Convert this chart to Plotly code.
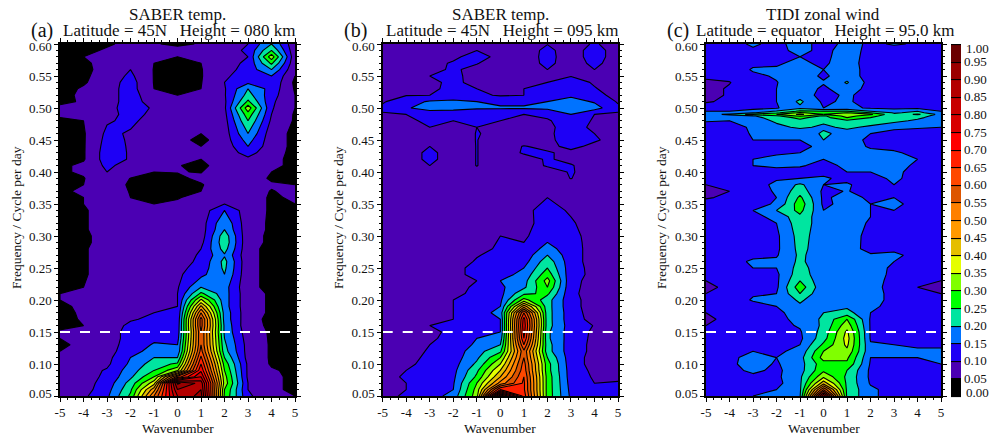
import numpy as np
import plotly.graph_objects as go

W, H = 991, 436
WAVENUMBER = [-5, -4, -3, -2, -1, 0, 1, 2, 3, 4, 5]
X_TICK_TEXT = ["-5", "-4", "-3", "-2", "-1", "0", "1", "2", "3", "4", "5"]
Y_TICKS = [0.05, 0.10, 0.15, 0.20, 0.25, 0.30, 0.35, 0.40, 0.45, 0.50, 0.55, 0.60]
CB_TICKS = [round(i * 0.05, 2) for i in range(21)]

# Rows of values in hundredths, columns are wavenumbers -5..5
ROWS_A = {
0.05: [6, 9, 14, 26, 55, 85, 92, 29, 11, 6, 5],
0.06: [6, 8, 13, 24, 48, 90, 90, 30, 10, 6, 4],
0.07: [6, 8, 12, 22, 38, 96, 88, 33, 10, 6, 4],
0.08: [6, 8, 11, 19, 30, 62, 80, 32, 9, 6, 4],
0.09: [6, 8, 10.5, 17.5, 25, 34, 74, 30, 9, 5.5, 4],
0.10: [6, 8, 9, 16, 22.5, 26, 70, 28, 9, 4.5, 4],
0.11: [6, 7, 8.5, 15, 20, 20, 66, 25, 8, 4.5, 3],
0.12: [5, 7, 8, 13, 17, 16, 62, 22, 8, 4.5, 3],
0.13: [3.5, 7, 8, 12, 15.5, 15, 60, 21, 8, 4.5, 3],
0.14: [5, 7, 8, 11.5, 14, 13, 60, 20, 7.5, 4.5, 3],
0.15: [5.5, 7, 8, 11.5, 12, 12, 60, 19, 7, 4.5, 3],
0.16: [4, 5, 7.5, 11, 11.5, 11.5, 62, 19, 6, 4.5, 3],
0.17: [3.5, 5.5, 7, 9.5, 11, 11, 62, 18, 6.5, 4, 3],
0.18: [3.5, 5.8, 7, 8, 10, 10.5, 55, 18, 6.5, 4.5, 3],
0.19: [4, 6, 7, 8, 9, 10, 46, 17, 6.5, 4.5, 3],
0.20: [5, 6.5, 7, 8, 8.5, 10, 36, 17, 6.5, 4.5, 3],
0.21: [5, 5.5, 7, 7.5, 8, 10, 26, 17, 6.5, 4.5, 3],
0.22: [3.5, 5, 7, 7.5, 8, 9.5, 20, 17, 6, 4, 3],
0.24: [3.5, 4.5, 7, 7.5, 8, 9, 13.5, 20, 6, 4, 3],
0.25: [3.5, 4.5, 7, 7.5, 8, 8.5, 12, 21, 6, 4, 3],
0.26: [3.5, 4.5, 7, 7.5, 8, 8, 11, 21.5, 6, 4, 3],
0.27: [3.5, 4.5, 7, 7.5, 8, 8, 10.5, 19.5, 6, 4, 3],
0.28: [3.5, 4.5, 7, 7.5, 8, 8, 10, 22, 6, 4, 3],
0.29: [3.5, 4, 7, 7.5, 8, 8, 8.5, 23.5, 6, 4.5, 3],
0.30: [3.5, 4, 7, 7.5, 8, 8, 7.5, 23, 6, 4.5, 3],
0.31: [3.5, 4.5, 7, 7.5, 8, 8, 7.5, 20, 6.5, 4.5, 3],
0.32: [3.5, 4.5, 7, 7.5, 8, 7.5, 7.5, 19, 6.5, 4.5, 3],
0.34: [3.5, 4.5, 7, 7.5, 7, 6.5, 7, 15, 7, 4.5, 4],
0.35: [4, 5, 7, 6, 5, 5.5, 6.5, 10, 7, 4.5, 5],
0.36: [4, 5, 7, 5, 4, 4.8, 6, 9, 7, 4.5, 5.5],
0.37: [4.5, 5.5, 7, 4.8, 4, 4.2, 5, 8, 7, 4.8, 6],
0.38: [3.5, 5, 7, 4.5, 4, 4, 4.8, 6.5, 7, 5.5, 5],
0.39: [4, 4.8, 8, 4.9, 4.5, 4.5, 5.5, 6.5, 7, 4.5, 4.5],
0.40: [4.5, 5.5, 10, 7, 5, 5.1, 4.9, 7, 6.5, 5, 4],
0.41: [4, 6, 11, 8, 5.5, 5.2, 4, 7, 6.5, 5.5, 4.5],
0.42: [3.5, 4.5, 12.5, 9.5, 7, 6, 5, 7, 9, 6, 4],
0.43: [3.5, 4.5, 12.5, 9.5, 7.5, 6.5, 6, 7, 12, 6.5, 4],
0.44: [3.5, 4.5, 12, 9.5, 8, 7, 5, 7, 15, 7, 4],
0.45: [3.5, 4.5, 11.5, 9.5, 8, 6.5, 3.8, 7.5, 17, 7, 4],
0.46: [3.5, 4.5, 11, 9.5, 8, 7, 5, 7.5, 20, 7, 4],
0.48: [4, 5, 9.5, 11, 8, 7, 7, 8, 25, 9, 4.5],
0.49: [6, 6, 8.5, 11.5, 9, 7, 7, 8.5, 28, 10, 4.5],
0.50: [6, 6, 8.5, 12, 9.5, 7.5, 7, 9, 33, 10.5, 5],
0.51: [4, 5.5, 8, 12, 8, 7, 7, 9, 26, 11, 5],
0.52: [3.5, 6, 8, 12, 7, 5, 7, 9.5, 22, 12, 5],
0.53: [3.5, 5.5, 8, 12, 5, 3.5, 5, 9.5, 20, 13, 4.5],
0.54: [3.5, 4.5, 7.5, 12, 4.8, 3.5, 4.8, 10, 14, 14, 4],
0.55: [3.5, 4.2, 7, 11, 4.8, 3.5, 4.7, 9, 13, 15, 5],
0.56: [3.5, 4, 6.5, 10, 4.8, 3.5, 4.8, 8, 12, 20, 5.5],
0.57: [3.5, 4.5, 6, 9, 5, 3.8, 5, 8, 11, 26, 6],
0.58: [3.5, 5, 6, 8, 7, 5, 7, 7.5, 10, 33, 6],
0.59: [3.5, 4, 5.5, 7, 6, 6, 6.5, 7.5, 11, 25, 6],
0.60: [3.5, 4, 4.5, 6, 5.2, 4.5, 5.2, 7, 10, 20, 6],
}
ROWS_B = {
0.05: [9, 10.5, 12.5, 17, 33, 100, 68, 28, 14, 11.5, 10.5],
0.06: [8, 10, 12, 15, 32, 70, 66, 28, 13.5, 11, 10.5],
0.07: [8, 10, 12, 14.5, 30, 52, 66, 28, 13, 10, 10.2],
0.08: [7.5, 11, 11.5, 14, 26, 45, 65, 28, 12.5, 9.5, 9.5],
0.09: [7.5, 10, 11.5, 13.5, 24, 40, 63, 27, 12.5, 9, 8.5],
0.10: [7.5, 9, 11.5, 13, 21, 35, 62, 27, 12, 8.5, 8],
0.11: [7.5, 8.5, 11, 12.5, 19, 30, 60, 25, 12, 8.5, 8],
0.12: [7.5, 8, 10.5, 12, 18, 24, 59, 22, 12, 9, 8],
0.13: [7.5, 8, 10, 11.5, 16, 20, 65, 22, 12, 9, 8],
0.14: [7.5, 8, 9.5, 11, 15, 17, 70, 21, 12.5, 9, 8],
0.15: [7.5, 8, 9.5, 10.5, 13.5, 15, 72, 21, 12.5, 9.2, 8],
0.16: [7.5, 8, 10, 11, 13, 15, 73, 22, 12.5, 9.8, 8],
0.17: [7.5, 8, 8.5, 10, 13, 15, 72, 22, 12, 8.5, 8],
0.18: [7.5, 8, 8.5, 10, 12, 17, 65, 22, 12, 8, 8],
0.19: [7.5, 8, 8.5, 10, 12, 15, 48, 22, 11.5, 8, 8],
0.20: [7.5, 8, 8.5, 10, 11.5, 14, 32, 22, 11.5, 8, 8],
0.21: [7.5, 8, 8.5, 9.5, 10.5, 13.5, 24, 26, 11, 8, 8],
0.22: [7.5, 8, 8.5, 9, 10.5, 14, 19, 30, 11, 8.5, 8],
0.23: [7.5, 8, 8.5, 9, 10, 15, 18, 32, 11, 8.8, 8],
0.24: [7.5, 8, 8.5, 9, 11, 13, 16.5, 28, 11.5, 9, 8],
0.25: [7.5, 8, 8.5, 9, 11, 12, 15, 25, 12, 8.5, 8],
0.26: [7.5, 8, 8.5, 8.5, 10.3, 11.5, 13, 23, 12, 8, 8],
0.27: [7.5, 8, 8.5, 8.5, 9.8, 11, 12, 20, 12, 8, 8],
0.28: [7.5, 8, 8.5, 8, 9, 10.5, 11, 17, 12, 8, 8],
0.29: [7.5, 8, 8.5, 8, 9, 10.2, 10, 15, 11.8, 8, 8],
0.30: [7.5, 8, 8.5, 8, 8.5, 10, 9, 14, 11.5, 8, 8],
0.32: [7.5, 8, 8.5, 8, 8, 9, 8.5, 12, 10.5, 8, 8],
0.34: [7.5, 8, 8, 8, 8, 8, 9, 11.5, 9.5, 8, 8],
0.36: [7.5, 8, 8, 8, 8, 8, 8, 10, 8, 8, 8],
0.38: [7.5, 8, 8, 8, 8, 8, 8, 8.5, 8, 8, 8],
0.39: [7.5, 8, 8, 8, 8, 8, 8, 8, 10.1, 8, 8],
0.40: [7.5, 8, 8, 8, 9, 8, 8, 8, 10.4, 8, 8],
0.41: [8, 8, 10, 8, 10.1, 8, 8, 10.4, 10.3, 8, 8],
0.42: [8, 8, 11, 8, 10.1, 8, 8.5, 10.4, 9, 8, 8],
0.43: [8, 8, 11, 8, 10.1, 8, 10.4, 10.4, 9, 9, 8],
0.44: [8, 8, 10, 8, 10.1, 8, 10.2, 9, 11, 9, 8],
0.45: [8, 8, 8, 8.5, 10.1, 8, 8, 9, 12, 10.5, 8.5],
0.46: [8, 8, 8, 8.5, 10.1, 9.5, 8, 9, 12.5, 10, 8.5],
0.47: [8, 8, 10, 9.5, 10, 10, 8.5, 9, 12, 9, 8.5],
0.48: [8.5, 9, 11, 10, 11, 10, 9, 9.5, 12.5, 9.5, 9],
0.49: [9.5, 10, 12, 13, 12, 11, 10, 11, 15, 10, 9.5],
0.50: [11, 14.5, 17, 16, 15.5, 15.5, 15.5, 16, 18, 17, 11],
0.51: [9.5, 13, 15.5, 16, 15, 14, 14, 15, 17, 14.5, 9.5],
0.52: [8.5, 9.8, 10, 12, 11, 9.5, 10, 13, 14, 11, 9],
0.53: [8, 8.5, 8.5, 12, 10, 8, 10, 11.5, 13, 10.3, 8],
0.54: [8, 8, 8.5, 11.5, 8, 8, 8, 10, 12, 9.5, 8],
0.55: [8, 8, 10, 11, 8.5, 8, 8, 10, 9.8, 8.5, 8],
0.56: [8, 8, 9, 10.5, 9, 8, 8, 10, 8, 10, 8],
0.57: [8, 8, 8.5, 10.5, 10.2, 8, 8, 11, 8, 11, 8],
0.58: [8, 8, 8, 9, 12, 8.5, 8, 11.2, 8, 11.8, 8],
0.59: [8, 8, 8, 8, 10, 8, 8, 11, 8, 11.8, 8],
0.60: [8, 8, 8, 8, 8, 8, 8, 9.9, 8, 10.5, 8],
}
ROWS_C = {
0.05: [12, 13, 15, 16, 19.5, 80, 24, 16, 13, 12.5, 12.5],
0.06: [12, 13, 13.5, 15, 19, 60, 24, 16, 13, 12.5, 12.5],
0.07: [12, 13, 13.5, 13.5, 19, 43, 24, 14.5, 13, 13, 13],
0.08: [12, 13, 14, 14, 19, 34, 24, 14, 13, 13, 13],
0.09: [12, 13.5, 16, 14, 18, 29, 25, 14, 13.5, 13.5, 14],
0.10: [12, 14, 17, 14.5, 18, 28, 29, 14.5, 14, 14, 15],
0.11: [12, 14, 16.5, 15, 18, 32, 31, 15, 15, 15, 15.5],
0.12: [12, 13, 15, 14, 16.5, 30, 34, 16, 16, 15.5, 15.5],
0.13: [12, 12.5, 13, 13, 15, 26, 36, 15.5, 15, 14.5, 14.5],
0.14: [11.5, 12, 13, 13, 14, 23, 37, 14.5, 13.5, 13, 13],
0.15: [11, 12, 12.5, 13, 14.5, 22, 36, 14.5, 13, 12.5, 12.5],
0.16: [10, 12, 12.5, 13.5, 15.5, 21, 33, 14.5, 13, 12.5, 12.5],
0.17: [8.5, 12, 12.5, 14, 16, 21, 30, 14.5, 13, 12.5, 12],
0.18: [10, 12, 12.5, 14, 17, 20, 22, 15, 13, 12.5, 12],
0.19: [11, 12, 13, 15, 19, 16, 19, 16, 13.5, 12.5, 12],
0.20: [11, 12, 15.5, 15.5, 21, 15.5, 18, 17, 13.5, 13, 12],
0.21: [10, 11.5, 14.5, 15, 25, 15.5, 18, 17, 13.5, 12, 10],
0.22: [8.5, 11.5, 13, 14, 28, 16, 17, 16, 14, 10, 8.5],
0.23: [10, 12, 13, 14, 25, 16, 17, 17, 13.5, 12, 10],
0.24: [11.5, 12, 12.5, 14, 23, 16, 17, 17, 14, 13, 11.5],
0.25: [12, 12.5, 15, 15, 22, 16.5, 17, 17.5, 14, 13, 12],
0.26: [12, 12.5, 16, 16, 21, 16.5, 19, 17, 15, 13, 12],
0.27: [12, 12.5, 13.5, 14.5, 21, 17, 17.5, 15.5, 17, 12, 12],
0.28: [12, 12.5, 13, 14, 21.5, 17, 17, 13.5, 13, 12.5, 12],
0.30: [12, 12.5, 13, 14, 22, 17, 18, 13, 12.5, 12.5, 12],
0.32: [12, 12.5, 13.5, 15, 23, 17, 19, 14, 12.5, 12.5, 12],
0.33: [12, 12.5, 14, 16, 24, 16, 18, 15, 12.5, 12.5, 12],
0.34: [12, 12.5, 15, 20, 26.5, 15, 18, 15, 15, 13, 12.5],
0.35: [12, 12.5, 13.5, 15.5, 28, 14, 16.5, 15, 16, 13.5, 12.5],
0.36: [9.5, 11, 13, 15, 26, 14, 17, 14, 15, 13, 12.5],
0.37: [9.5, 10, 13, 15.5, 23, 14, 15.2, 13.5, 14, 13, 12.5],
0.38: [10, 11, 13, 16, 21, 15, 15.5, 13, 15, 13, 12.5],
0.39: [12, 12.5, 13, 14.5, 15, 15.5, 14, 13, 16, 13, 12.5],
0.40: [12, 12.5, 13.5, 14, 13, 14, 15, 15, 16, 13.5, 12.5],
0.41: [12, 13, 15, 15.5, 15.5, 13.5, 16, 16, 17, 14, 12.5],
0.42: [12, 13, 15, 16, 17, 15, 16.5, 16, 17, 15, 12.5],
0.43: [12, 13, 14, 14.5, 15, 15.5, 17, 16, 15.5, 14, 12.5],
0.44: [12, 12.5, 13.5, 14, 14, 16, 17, 14.5, 14, 13.5, 12.5],
0.45: [12, 12.5, 15, 15, 15, 20, 17, 14, 13, 13, 12.5],
0.46: [12, 12.5, 15.5, 16, 16, 21, 18, 15, 13.5, 13, 12.5],
0.47: [12, 12.5, 16, 18.5, 21, 19, 21, 19, 16, 15.5, 15],
0.48: [15.5, 15, 17, 21, 24, 21, 24, 23, 21.5, 19, 17],
0.485: [16, 16.5, 18, 23, 26, 23, 30, 25, 21, 21, 17.5],
0.4875: [16.5, 17.5, 19.5, 24, 31, 24, 32, 27, 21, 22, 18],
0.49: [18, 21, 27, 30, 36, 30, 33, 31, 21, 26, 18],
0.4925: [16.5, 17.5, 19.5, 24, 31, 26, 30, 25, 19.5, 21, 17.5],
0.495: [15, 15, 17, 20.5, 26, 25, 25, 20, 17, 20, 15],
0.50: [12.5, 12.5, 13.5, 14.5, 19, 15, 16, 14.5, 14, 14, 12.5],
0.51: [9.5, 11, 12.5, 15, 21, 14, 16, 12, 12.5, 12.5, 12.5],
0.52: [8.5, 10.5, 12.5, 15, 18, 13, 16, 12.5, 12.5, 12.5, 12.5],
0.53: [8.5, 10.5, 13, 15, 18, 14, 18, 13, 12.5, 12.5, 12.5],
0.54: [9, 9.8, 13, 14.8, 18, 15.5, 20.5, 13, 12.5, 12.5, 12.5],
0.55: [11, 11.5, 14, 15.5, 18, 14, 18, 12.5, 12.5, 12.5, 12.5],
0.56: [12, 12, 15.5, 15.5, 17, 15, 18, 12.5, 12.5, 12.5, 12.5],
0.57: [12, 12, 14, 14.5, 16, 14, 18, 12, 12.5, 12.5, 12.5],
0.58: [12, 12, 13, 13, 15, 13.5, 18, 12.5, 12.5, 12.5, 12.5],
0.59: [12, 12.5, 14, 13, 17, 13, 18, 13, 13, 12.5, 12.5],
0.60: [12, 12.5, 16, 13, 18, 12, 17, 14, 15.5, 14.5, 12.5],
}

BAND_COLORS = ["#000000", "#4B00B3", "#1E00F5", "#0073FF", "#00E5A0", "#00FF00", "#80FF00",
               "#E5FF00", "#E5BE00", "#FF9900", "#FF8000", "#DD5500", "#FF4800", "#FF2000",
               "#FF0000", "#D80000", "#C80000", "#B30000", "#9B0000", "#6B0000"]
colorscale = []
for i, c in enumerate(BAND_COLORS):
    colorscale += [[i / 20, c], [(i + 1) / 20, c]]

FONT = "Liberation Serif"
PANELS = [
    dict(rows=ROWS_A, x0=60.0, x1=295.0, tag="(a)", tag_x=42, t1="SABER temp.", t1_x=177.5,
         t2="Latitude = 45N   Height = 080 km", t2_x=179.5, yt_x=16),
    dict(rows=ROWS_B, x0=382.7, x1=618.0, tag="(b)", tag_x=355, t1="SABER temp.", t1_x=500.5,
         t2="Latitude = 45N   Height = 095 km", t2_x=502.3, yt_x=338),
    dict(rows=ROWS_C, x0=706.0, x1=941.0, tag="(c)", tag_x=678, t1="TIDI zonal wind", t1_x=823,
         t2="Latitude = equator   Height = 95.0 km", t2_x=825.5, yt_x=661),
]
Y_TOP, Y_BOT = 44.0, 396.0

fig = go.Figure()
ann = []


def text(s, x, y, size=13, anchor="center", angle=0):
    ann.append(dict(text=s, x=x / W, y=1 - y / H, xref="paper", yref="paper", showarrow=False,
                    xanchor=anchor, yanchor="middle", textangle=angle,
                    font=dict(family=FONT, size=size, color="#111111")))


for i, p in enumerate(PANELS):
    n = "" if i == 0 else str(i + 1)
    freq = sorted(p["rows"])
    z = np.array([p["rows"][f] for f in freq]) / 100.0
    trace = dict(
        x=WAVENUMBER, y=freq, z=z, zmin=0, zmax=1, colorscale=colorscale, autocontour=False,
        contours=dict(start=0, end=1, size=0.05, coloring="fill"),
        line=dict(color="black", width=1.1, smoothing=0), hoverinfo="skip",
        xaxis="x" + n, yaxis="y" + n, showscale=(i == 2),
    )
    if i == 2:
        trace["colorbar"] = dict(
            x=951 / W, xanchor="left", xpad=0, ypad=0, thickness=10, thicknessmode="pixels",
            len=(Y_BOT - Y_TOP) / H, lenmode="fraction", y=1 - Y_BOT / H, yanchor="bottom",
            tickmode="array", tickvals=CB_TICKS,
            ticktext=[""] + [f"{v:.2f}" for v in CB_TICKS[1:-1]] + [""],
            ticks="", outlinewidth=0, tickfont=dict(family=FONT, size=13, color="#111111"),
        )
    fig.add_trace(go.Contour(**trace))
    fig.add_trace(go.Scatter(x=[WAVENUMBER[0], WAVENUMBER[-1]], y=[0.15, 0.15], mode="lines",
                             line=dict(color="white", width=2, dash="10px,10px"),
                             hoverinfo="skip", showlegend=False, xaxis="x" + n, yaxis="y" + n))
    axis_common = dict(showgrid=False, zeroline=False, showline=True, linecolor="black", linewidth=1.5,
                       mirror="ticks", ticks="outside", ticklen=4, tickwidth=1, tickcolor="black",
                       tickfont=dict(family=FONT, size=13, color="#111111"))
    fig.update_layout(**{
        "xaxis" + n: dict(domain=[p["x0"] / W, p["x1"] / W], range=[-5, 5], anchor="y" + n,
                          tickmode="array", tickvals=WAVENUMBER, ticktext=X_TICK_TEXT,
                          minor=dict(dtick=1 / 3, tick0=-5, ticks="outside", ticklen=2, tickcolor="black"),
                          **axis_common),
        "yaxis" + n: dict(domain=[1 - Y_BOT / H, 1 - Y_TOP / H], range=[0.05, 0.60], anchor="x" + n,
                          tickmode="array", tickvals=Y_TICKS,
                          ticktext=[""] + [f"{v:.2f}" for v in Y_TICKS[1:-1]] + [""],
                          minor=dict(dtick=0.01, tick0=0.05, ticks="outside", ticklen=2, tickcolor="black"),
                          **axis_common),
    })
    text(p["t1"], p["t1_x"], 15, 17)
    text(p["t2"], p["t2_x"], 30, 17)
    text(p["tag"], p["tag_x"], 31, 20)
    text("Wavenumber", (p["x0"] + p["x1"]) / 2, 428, 13.5)
    text("Frequency / Cycle per day", p["yt_x"], 218, 13.5, angle=-90)
    text("0.60", p["x0"] - 6, 47, 13, anchor="right")
    text("0.05", p["x0"] - 6, 393, 13, anchor="right")

text("1.00", 964, 48, 13, anchor="left")
text("0.00", 964, 392, 13, anchor="left")

fig.update_layout(width=W, height=H, margin=dict(l=0, r=0, t=0, b=0, autoexpand=False), paper_bgcolor="white",
                  plot_bgcolor="white", showlegend=False, annotations=ann)
fig.write_html("out.html", config={"displayModeBar": False},
               post_script="document.body.style.margin='0';document.body.style.overflow='hidden';")
